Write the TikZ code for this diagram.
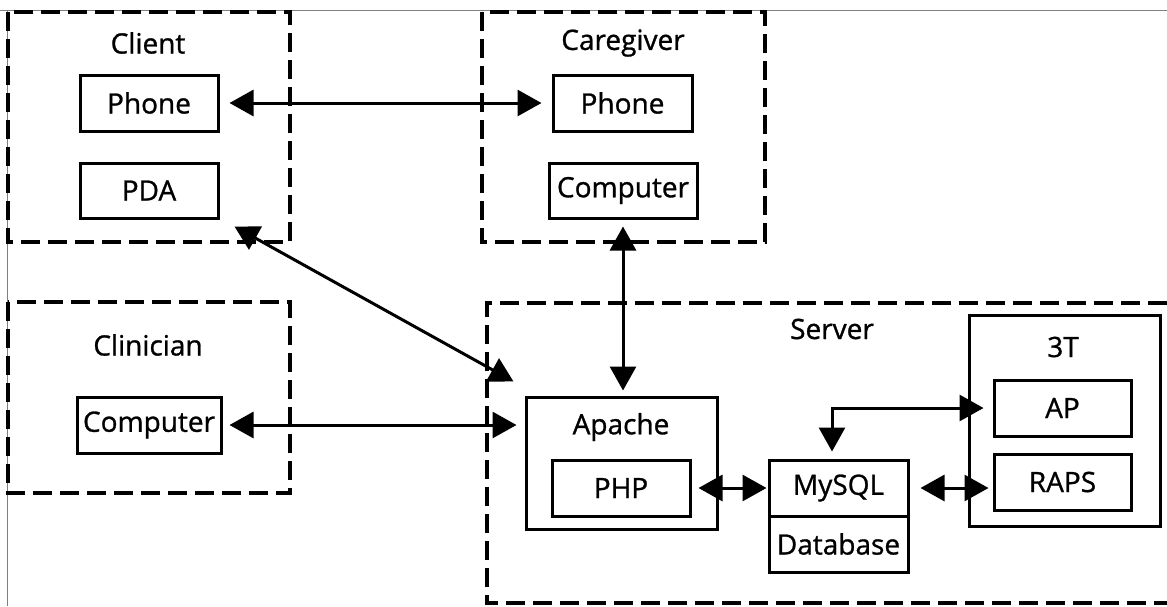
\documentclass[tikz,border=0pt]{standalone}
\usepackage{fontspec}
\setmainfont{Open Sans}[FakeBold=1]
\usetikzlibrary{arrows.meta,calc}
\begin{document}
\begin{tikzpicture}[x=1pt,y=-1pt,
  every node/.style={font=\fontsize{28}{32}\selectfont},
  box/.style={draw,line width=3pt,inner sep=0pt,minimum width=#1},
  box/.default=138pt,
  grp/.style={draw,line width=3.2pt,dash pattern=on 19pt off 8pt},
  dbl/.style={line width=3pt,{Triangle[length=24pt,width=26pt]}-{Triangle[length=24pt,width=26pt]}},
  lbl/.style={inner sep=0pt}
]
\useasboundingbox (0,0) rectangle (1167,606);
% frame lines of the original image
\draw[gray,line width=1pt] (0,10) -- (1167,10);
\draw[gray,line width=1pt] (7,10) -- (7,606);
% groups
\draw[grp] (8,12) rectangle (290,242);
\draw[grp] (482,12) rectangle (765,242);
\draw[grp] (8,302) rectangle (290,493);
\draw[grp] (1167,303) -- (487,303) -- (487,603) -- (1167,603);
% group labels
\node[lbl] (lclient) at (148,43) {Client};
\node[lbl] (lcare) at (623,43) {Caregiver};
\node[lbl] (lclin) at (148,345) {Clinician};
\node[lbl] (lserver) at (832,329) {Server};
% client
\node[box,minimum height=56pt] (cphone) at (149,103) {Phone};
\node[box,minimum height=55pt] (pda) at (149,190.5) {PDA};
% caregiver
\node[box=139pt,minimum height=56pt] (gphone) at (622.5,103) {Phone};
\node[box=148pt,minimum height=55pt] (gcomp) at (623,190.5) {Computer};
% clinician
\node[box=144pt,minimum height=56pt] (ccomp) at (149,425) {Computer};
% server
\node[box=191pt,minimum height=132pt] (apache) at (621.5,463) {};
\node[lbl] (lapache) at (621,427) {Apache};
\node[box,minimum height=56pt] (php) at (621,488) {PHP};
\node[box=139pt,minimum height=56pt] (mysql) at (838.5,488) {MySQL};
\node[box=139pt,minimum height=56pt] (db) at (838.5,544) {Database};
\node[box=191pt,minimum height=211pt] (tt) at (1064.5,420.5) {};
\node[lbl] (ltt) at (1063,347) {3T};
\node[box=137pt,minimum height=56pt] (ap) at (1062.5,408) {AP};
\node[box=137pt,minimum height=56pt] (raps) at (1062.5,482) {RAPS};
% connectors
\draw[dbl] ([xshift=10pt]cphone.east) -- ([xshift=-10pt]gphone.west);
\draw[dbl] ($(pda.south east)+(15,7)$) -- ($(apache.north west)+(-11,-14)$);
\draw[dbl] ([yshift=-7pt]gcomp.south) -- ([yshift=5pt]gcomp.south |- apache.north);
\draw[dbl] ([xshift=7pt]ccomp.east) -- ([xshift=-8pt]ccomp.east -| apache.west);
\draw[dbl] ([xshift=7pt]php.east) -- ([xshift=-1pt]php.east -| mysql.west);
\draw[dbl] ([xshift=11pt]mysql.east) -- ([xshift=-4pt]mysql.east -| raps.west);
\draw[dbl] ([xshift=-9pt]ap.west) -| ([xshift=-6.5pt,yshift=7pt]mysql.north);
\end{tikzpicture}
\end{document}
